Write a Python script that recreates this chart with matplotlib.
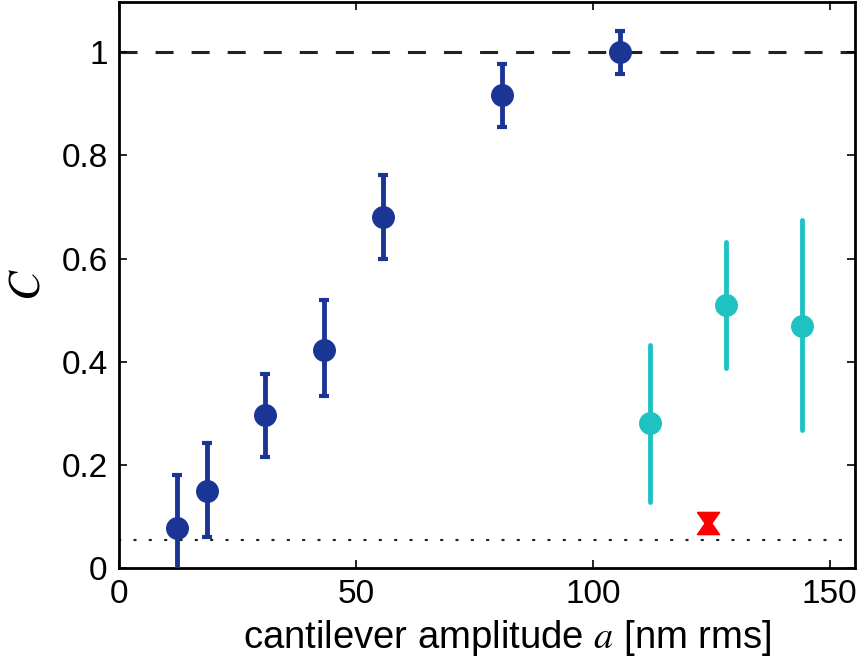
import numpy as np
import matplotlib
matplotlib.use("Agg")
import matplotlib.pyplot as plt

# blue series (data)
blue_x = [12.2, 18.6, 30.8, 43.2, 55.7, 80.8, 105.7]
blue_y = [0.079, 0.149, 0.296, 0.422, 0.680, 0.917, 1.0]
blue_lo = [-0.03, 0.060, 0.215, 0.333, 0.599, 0.855, 0.957]
blue_hi = [0.180, 0.242, 0.376, 0.519, 0.762, 0.977, 1.040]

# cyan series
cyan_x = [112.0, 128.1, 144.1]
cyan_y = [0.281, 0.510, 0.469]
cyan_lo = [0.128, 0.388, 0.267]
cyan_hi = [0.432, 0.632, 0.674]

# red point
red_x = [124.3]
red_y = [0.087]

ref_top = 1.0
ref_bottom = 0.054

xticks = [0, 50, 100, 150]
yticks = [0, 0.2, 0.4, 0.6, 0.8, 1.0]
ytick_labels = ["0", "0.2", "0.4", "0.6", "0.8", "1"]

plt.rcParams['font.family'] = ['Liberation Sans', 'DejaVu Sans']
plt.rcParams['mathtext.fontset'] = 'stix'

fig = plt.figure(figsize=(8.67, 6.67), dpi=100)
ax = fig.add_axes([0.137, 0.148, 0.849, 0.849])

blue = '#1a3594'
cyan = '#1fc2c2'

ax.axhline(ref_top, color='#222222', lw=2.2, ls=(0, (5.9, 5.9)), zorder=1)
ax.axhline(ref_bottom, color='#222222', lw=1.6, ls=(0, (0.6, 6.3)), dash_capstyle='round', zorder=1)

by = np.array(blue_y)
berr = [by - np.array(blue_lo), np.array(blue_hi) - by]
ax.errorbar(blue_x, blue_y, yerr=berr, fmt='o', color=blue, ms=15.5,
            elinewidth=3.5, capsize=3.5, capthick=3, zorder=3)

cy = np.array(cyan_y)
cerr = [cy - np.array(cyan_lo), np.array(cyan_hi) - cy]
_, _, bars = ax.errorbar(cyan_x, cyan_y, yerr=cerr, fmt='o', color=cyan, ms=15.5,
                         elinewidth=3.5, capsize=0, zorder=3)
for b in bars:
    b.set_capstyle('round')

hourglass = [(-1, 1), (1, 1), (0.3, 0), (1, -1), (-1, -1), (-0.3, 0), (-1, 1)]
ax.plot(red_x, red_y, ls='none', marker=hourglass, ms=16, color='red',
        mec='red', zorder=4)

ax.set_xlim(0, 155.3)
ax.set_ylim(0, 1.097)
ax.set_xticks(xticks)
ax.set_yticks(yticks)
ax.set_yticklabels(ytick_labels)
ax.tick_params(direction='in', length=6, width=1.2, top=True, right=True,
               labelsize=24, pad=8)
for s in ax.spines.values():
    s.set_linewidth(2)

ax.set_xlabel('cantilever amplitude $\\mathit{a}$ [nm rms]', fontsize=27.5)
ax.xaxis.set_label_coords(0.528, -0.088)
ax.set_ylabel('$C$', fontsize=32, labelpad=9)

fig.savefig('out.png', dpi=100)
